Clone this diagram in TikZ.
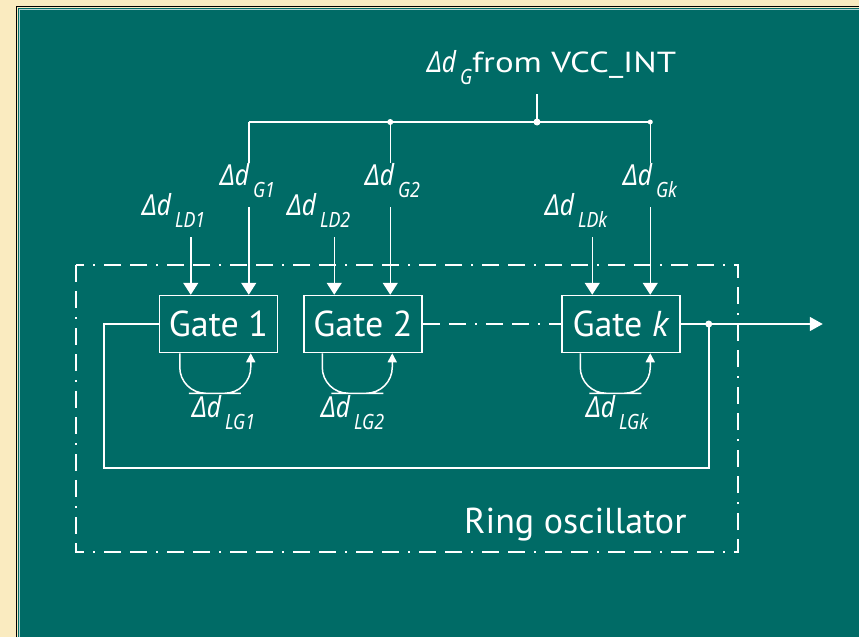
\documentclass[tikz,border=0pt]{standalone}
\usepackage{fontspec}
\setmainfont{PT Sans}
\newfontfamily\deltafont[FakeStretch=0.85]{Noto Sans}
\newfontfamily\vccfont[FakeStretch=1.2]{PT Sans}
\usetikzlibrary{arrows.meta,calc}
\definecolor{ringteal}{HTML}{006B66}
\definecolor{ringcream}{HTML}{FAEBC0}
\newcommand{\dsub}[1]{{\deltafont\itshape\fontsize{29}{30}\selectfont Δd}\hspace{4pt}\raisebox{-12pt}{\deltafont\itshape\fontsize{21}{22}\selectfont #1}}

\begin{document}
\begin{tikzpicture}[x=1pt, y=-1pt,
  wire/.style={draw=white, line width=1.5pt},
  sig/.style={wire, -{Triangle[width=15pt,length=12pt]}},
  outsig/.style={wire, -{Triangle[width=14pt,length=13pt]}},
  loopsig/.style={wire, rounded corners=26pt, -{Triangle[width=9pt,length=9pt]}},
  frame/.style={draw=white, line width=1.3pt, dash pattern=on 17pt off 9pt on 17pt off 9pt on 2pt off 9pt},
  gatebox/.style={draw=white, line width=1.5pt, minimum width=118pt, minimum height=57pt, inner sep=0pt, text=white, font=\fontsize{36}{40}\selectfont},
  dlabel/.style={anchor=base west, inner sep=0pt, text=white},
  dot/.style={fill=white}]
\useasboundingbox (0,0) rectangle (859,637);
\fill[ringcream] (0,0) rectangle (859,637);
\fill[ringteal] (18,8) rectangle (859,637);
\draw[black, line width=1.8pt] (16.5,637) -- (16.5,6.5) -- (859,6.5);
\draw[white!70!ringteal, line width=0.8pt] (19.5,637) -- (19.5,9.5) -- (859,9.5);

% ring oscillator frame
\draw[frame] (76,265) rectangle (738,552);
\node[anchor=base east, text=white, font=\fontsize{36}{40}\selectfont] (ro) at (690,533) {Ring oscillator};

% gates
\node[gatebox] (g1) at (218.5,324) {Gate 1};
\node[gatebox] (g2) at (363,324) {Gate 2};
\node[gatebox] (gk) at (621,324) {Gate \textit{k}};
\draw[frame] (g2.east) -- (gk.west);

\coordinate (g1ld) at ($(g1.north west)+(32,0)$);
\coordinate (g1gg) at ($(g1.north west)+(90,0)$);
\coordinate (g2ld) at ($(g2.north west)+(31,0)$);
\coordinate (g2gg) at ($(g2.north west)+(87,0)$);
\coordinate (gkld) at ($(gk.north west)+(31,0)$);
\coordinate (gkgg) at ($(gk.north west)+(89,0)$);

% delay labels
\node[dlabel] (ld1) at (142,215) {\dsub{LD1}};
\node[dlabel] (lg1) at (220,185) {\dsub{G1}};
\node[dlabel] (ld2) at (287,215) {\dsub{LD2}};
\node[dlabel] (lg2) at (365,185) {\dsub{G2}};
\node[dlabel] (ldk) at (545,215) {\dsub{LDk}};
\node[dlabel] (lgk) at (623,185) {\dsub{Gk}};
\node[dlabel] (vcc) at (427,72) {\dsub{G}{\vccfont\fontsize{29}{30}\selectfont from VCC\_INT}};

% supply bus
\coordinate (bus) at (537,122);
\draw[wire] (g1gg |- bus) -- (gkgg |- bus);
\draw[wire] ([yshift=-10pt]vcc.south -| bus) -- (bus);
\draw[wire] (g1gg |- bus) -- (g1gg |- lg1.north);
\draw[wire] (g2gg |- bus) -- (g2gg |- lg2.north);
\draw[wire] (gkgg |- bus) -- (gkgg |- lgk.north);
\fill[dot] (bus) circle (3.5pt);
\fill[dot] (g2gg |- bus) circle (3pt);
\fill[dot] (gkgg |- bus) circle (2.5pt);

% inputs
\draw[sig] ([yshift=-10pt]g1ld |- ld1.south) -- (g1ld);
\draw[sig] ([yshift=-10pt]g1gg |- lg1.south) -- (g1gg);
\draw[sig] ([yshift=-10pt]g2ld |- ld2.south) -- (g2ld);
\draw[sig] ([yshift=-10pt]g2gg |- lg2.south) -- (g2gg);
\draw[sig] ([yshift=-10pt]gkld |- ldk.south) -- (gkld);
\draw[sig] ([yshift=-10pt]gkgg |- lgk.south) -- (gkgg);

% local loops
\draw[loopsig] ($(g1.south west)+(21,0)$) |- ($(g1.south west)+(56,40)$) -| ($(g1.south west)+(92,0)$);
\draw[loopsig] ($(g2.south west)+(19,0)$) |- ($(g2.south west)+(54,40)$) -| ($(g2.south west)+(89,0)$);
\draw[loopsig] ($(gk.south west)+(19,0)$) |- ($(gk.south west)+(54,40)$) -| ($(gk.south west)+(89,0)$);
\node[dlabel] (llg1) at (192,417) {\dsub{LG1}};
\node[dlabel] (llg2) at (321,417) {\dsub{LG2}};
\node[dlabel] (llgk) at (586,417) {\dsub{LGk}};

% feedback and output
\coordinate (tap) at ($(gk.east)+(28,0)$);
\coordinate (out) at ($(gk.east)+(142,0)$);
\coordinate (ret) at (104,468);
\draw[wire] (gk.east) -- (tap);
\draw[outsig] (tap) -- (out);
\draw[wire] (tap) |- (ret) |- (g1.west);
\fill[dot] (tap) circle (3.5pt);
\end{tikzpicture}
\end{document}
